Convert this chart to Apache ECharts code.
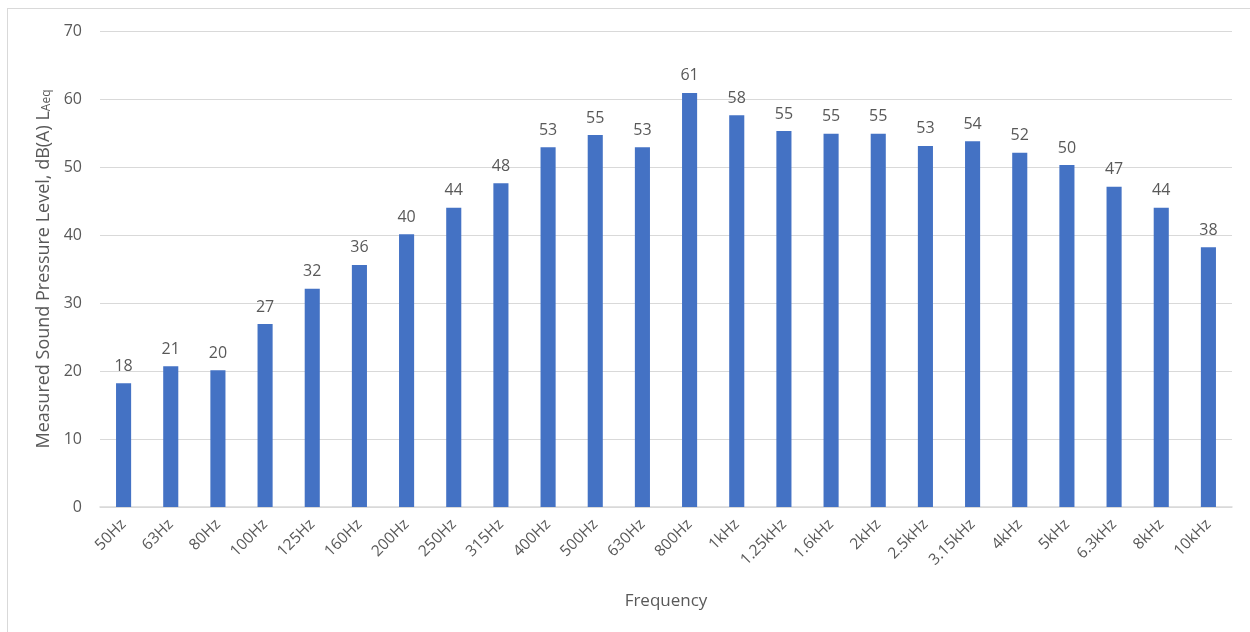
<!DOCTYPE html>
<html>
<head>
<meta charset="utf-8">
<script src="https://cdn.jsdelivr.net/npm/echarts@6/dist/echarts.min.js"></script>
<style>
  html, body { margin: 0; padding: 0; background: #fff; }
  #frame {
    position: absolute;
    left: 7px; top: 8px;
    width: 1260px; height: 640px;
    border: 1px solid #d9d9d9;
  }
  #chart { width: 1250px; height: 632px; position: absolute; left: 0; top: 0; }
</style>
</head>
<body>
<div id="frame"></div>
<div id="chart"></div>
<script>
// frequency bands (1/3 octave)
const bands = ['50Hz', '63Hz', '80Hz', '100Hz', '125Hz', '160Hz', '200Hz', '250Hz',
  '315Hz', '400Hz', '500Hz', '630Hz', '800Hz', '1kHz', '1.25kHz', '1.6kHz', '2kHz',
  '2.5kHz', '3.15kHz', '4kHz', '5kHz', '6.3kHz', '8kHz', '10kHz'];
// measured levels, dB(A)
const levels = [18.2, 20.7, 20.1, 26.9, 32.1, 35.6, 40.1, 44.0, 47.6, 52.9, 54.7, 52.9,
  60.9, 57.6, 55.3, 54.9, 54.9, 53.1, 53.8, 52.1, 50.3, 47.1, 44.0, 38.2];
const yTicks = [0, 10, 20, 30, 40, 50, 60, 70];

const font = 'Open Sans';
const grey = '#595959';

const chart = echarts.init(document.getElementById('chart'));
chart.setOption({
  animation: false,
  textStyle: { fontFamily: font },
  grid: { left: 100, right: 18, top: 31, bottom: 125 },
  xAxis: {
    type: 'category',
    data: bands,
    name: 'Frequency',
    nameLocation: 'middle',
    nameGap: 86,
    nameTextStyle: { color: grey, fontSize: 17 },
    axisTick: { show: false },
    axisLine: { lineStyle: { color: '#d9d9d9', width: 1.5 } },
    axisLabel: { color: grey, fontSize: 15.5, rotate: 45, margin: 15, interval: 0 }
  },
  yAxis: {
    type: 'value',
    min: yTicks[0],
    max: yTicks[yTicks.length - 1],
    interval: 10,
    name: '{m|Measured Sound Pressure Level, dB(A) L}{s|Aeq}',
    nameLocation: 'middle',
    nameGap: 46,
    nameRotate: 90,
    nameTextStyle: {
      color: grey,
      rich: {
        m: { fontSize: 18, color: grey, fontFamily: font },
        s: { fontSize: 12, color: grey, fontFamily: font, padding: [6, 0, 0, 0] }
      }
    },
    axisLine: { show: false },
    axisTick: { show: false },
    axisLabel: { color: grey, fontSize: 16, margin: 18 },
    splitLine: { lineStyle: { color: '#d9d9d9', width: 1 } }
  },
  series: [{
    type: 'bar',
    data: levels,
    barWidth: '32%',
    itemStyle: { color: '#4472c4' },
    label: {
      show: true,
      position: 'top',
      distance: 9,
      color: grey,
      fontSize: 16,
      formatter: p => Math.round(p.value)
    }
  }]
});
</script>
</body>
</html>
